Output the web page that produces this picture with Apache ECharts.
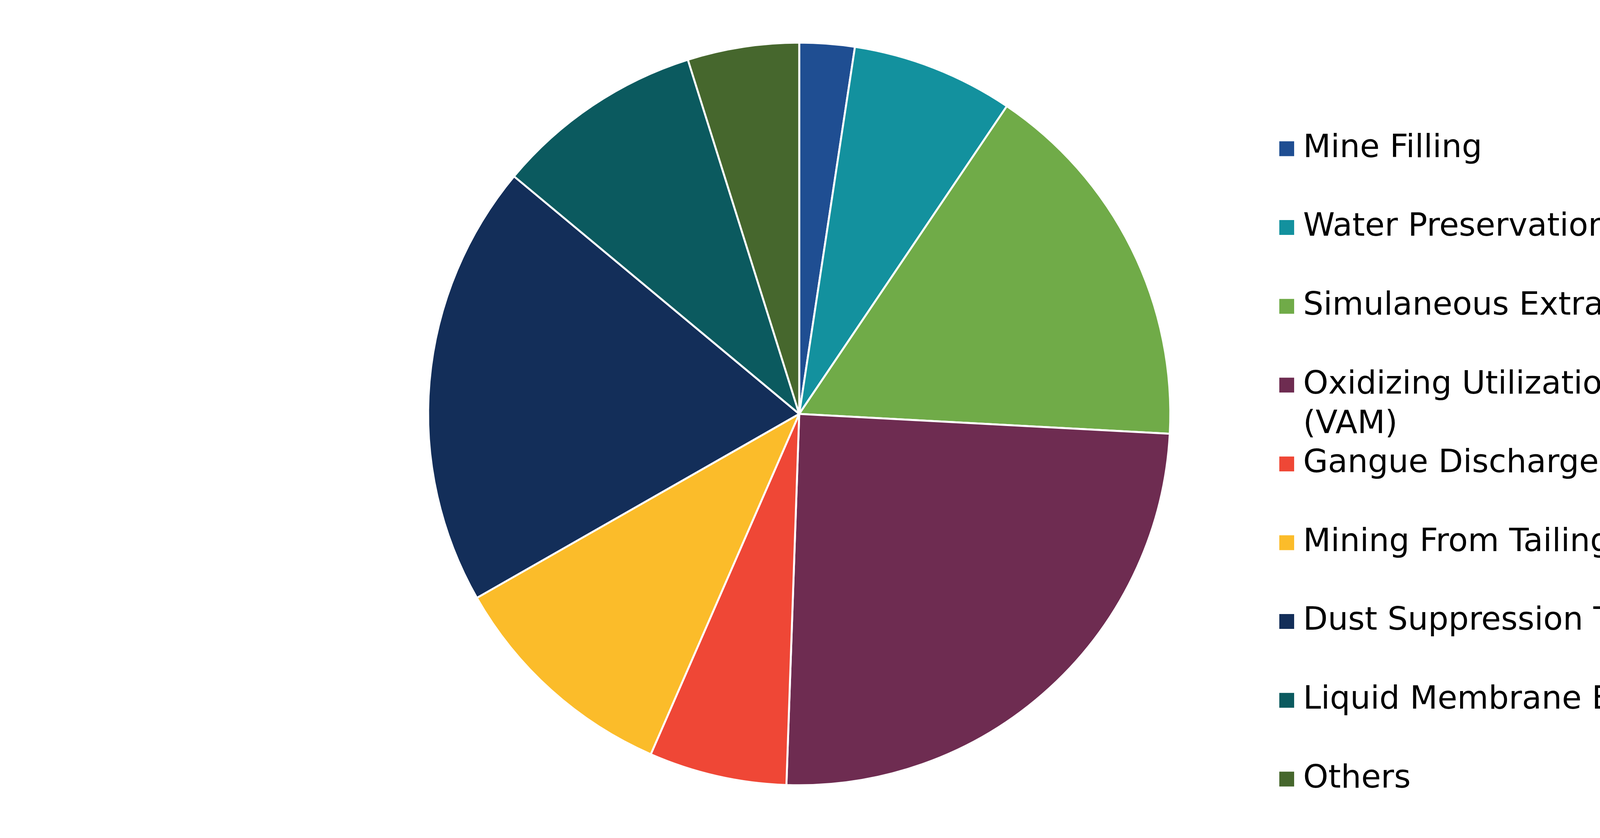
<!DOCTYPE html>
<html>
<head>
<meta charset="utf-8">
<script src="https://cdn.jsdelivr.net/npm/echarts@6/dist/echarts.min.js"></script>
<style>
html,body{margin:0;padding:0;background:#fff;}
#chart{width:5399px;height:2144px;}
</style>
</head>
<body>
<div id="chart"></div>
<script>
const categories = [
  "Mine Filling",
  "Water Preservation",
  "Simulaneous Extraction of Coal & Gas",
  "Oxidizing Utilization of Ventilation Air Methane (VAM)",
  "Gangue Discharge Reduction",
  "Mining From Tailings",
  "Dust Suppression Techniques",
  "Liquid Membrane Emulsion Technology",
  "Others"
];
const shares = [2.4, 7.05, 16.4, 24.7, 6.0, 10.2, 19.3, 9.1, 4.85];
const colors = ["#1F4E92", "#13919E", "#70AB48", "#6E2C51", "#EF4736", "#FBBC2A", "#132E59", "#0B5A5F", "#46672D"];
const legendLabels = [
  "Mine Filling",
  "Water Preservation",
  "Simulaneous Extraction of Coal & Gas",
  "\nOxidizing Utilization of Ventilation Air Methane\n(VAM)",
  "Gangue Discharge Reduction",
  "Mining From Tailings",
  "Dust Suppression Techniques",
  "Liquid Membrane Emulsion Technology",
  "Others"
];

const chart = echarts.init(document.getElementById('chart'), null, {renderer: 'canvas'});

const LINE = 101;
const ROW0 = 380.5;
const ROWSTEP = 201.6;
const legends = categories.map((name, i) => {
  const lines = legendLabels[i].split('\n').length;
  const center = ROW0 + i * ROWSTEP;
  return {
    data: [name],
    orient: 'vertical',
    left: 3273,
    top: center - LINE * lines / 2,
    itemWidth: 40,
    itemHeight: 40,
    padding: 0,
    selectedMode: false,
    icon: 'rect',
    formatter: () => legendLabels[i],
    textStyle: {
      fontFamily: 'DejaVu Sans, Verdana, sans-serif',
      fontSize: 82,
      color: '#000',
      lineHeight: LINE,
      padding: [0, 0, 0, 17]
    }
  };
});

chart.setOption({
  animation: false,
  color: colors,
  legend: legends,
  series: [{
    type: 'pie',
    center: [2046, 1059],
    radius: 950,
    startAngle: 90,
    clockwise: true,
    label: {show: false},
    labelLine: {show: false},
    itemStyle: {borderColor: '#ffffff', borderWidth: 5},
    data: categories.map((name, i) => ({name: name, value: shares[i]}))
  }]
});
</script>
</body>
</html>
